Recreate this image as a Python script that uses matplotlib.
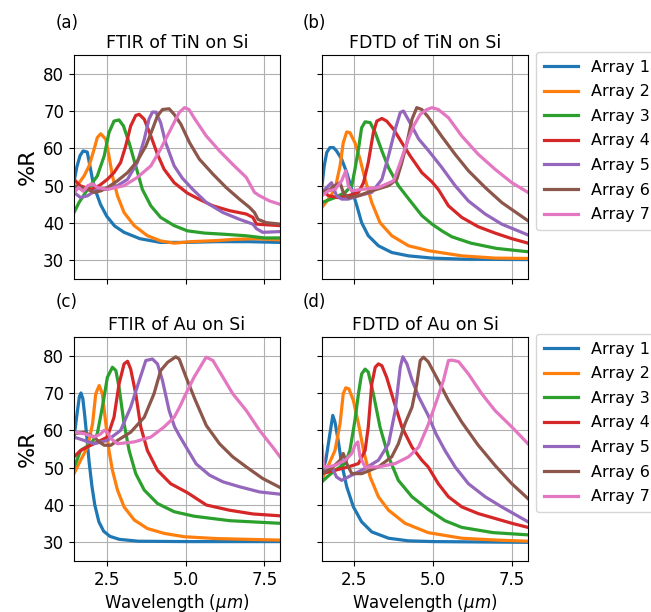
import matplotlib
matplotlib.use("Agg")
import matplotlib.pyplot as plt

labels = ["Array 1", "Array 2", "Array 3", "Array 4", "Array 5", "Array 6", "Array 7"]
titles = ["FTIR of TiN on Si", "FDTD of TiN on Si", "FTIR of Au on Si", "FDTD of Au on Si"]
panel_tags = ["(a)", "(b)", "(c)", "(d)"]
xticks = [2.5, 5.0, 7.5]
yticks = [30, 40, 50, 60, 70, 80]

# ---------------- (a) FTIR of TiN on Si ----------------
a1_wl = [1.46, 1.55, 1.65, 1.75, 1.88, 1.95, 2.05, 2.15, 2.3, 2.5, 2.75, 3.05, 3.55, 4.2, 5.0, 6.0, 7.0, 8.0]
a1_r = [51, 55, 58, 59.3, 59, 56, 51.5, 48.5, 45, 41.8, 39.2, 37.5, 35.8, 34.8, 34.8, 35, 35, 34.8]
a2_wl = [1.46, 1.6, 1.78, 1.94, 2.1, 2.2, 2.31, 2.47, 2.57, 2.68, 2.84, 3.05, 3.37, 3.79, 4.21, 4.64, 5.17, 6.0, 6.5, 7.2, 8.0]
a2_r = [48.5, 50.5, 52.6, 55.3, 59.8, 62.9, 63.9, 62.4, 58, 52.6, 47.3, 42.8, 39.3, 36.6, 35.2, 34.6, 35, 35.3, 35.6, 35.8, 35.5]
a3_wl = [1.46, 1.62, 1.89, 2.2, 2.42, 2.57, 2.73, 2.89, 3.03, 3.21, 3.42, 3.63, 3.9, 4.21, 4.64, 5.06, 5.6, 6.2, 6.9, 7.5, 8.0]
a3_r = [42.8, 45.5, 49, 52.6, 58, 64.2, 67.3, 67.6, 66, 61.5, 55.3, 49, 44.6, 41.5, 39.3, 37.9, 37.3, 37, 36.6, 36, 36]
a4_wl = [1.46, 1.65, 1.99, 2.26, 2.52, 2.73, 2.94, 3.1, 3.26, 3.42, 3.53, 3.69, 3.9, 4.11, 4.32, 4.64, 5.06, 5.4, 5.87, 6.4, 6.93, 7.14, 7.25, 8.0]
a4_r = [51.7, 50, 49, 50, 51.7, 53.5, 56.2, 60.6, 66, 68.8, 69.1, 67.8, 63.3, 58.4, 54.4, 50.8, 48, 46.5, 44.6, 43.3, 42.4, 41.5, 39.7, 39.3]
a5_wl = [1.46, 1.67, 1.89, 2.2, 2.52, 2.84, 3.16, 3.47, 3.69, 3.84, 3.95, 4.06, 4.21, 4.37, 4.64, 4.9, 5.23, 5.66, 6.19, 6.71, 7.14, 7.25, 7.45, 8.0]
a5_r = [48.2, 46.8, 47.3, 49, 49, 50, 51.7, 56.2, 62.4, 67.8, 69.7, 69.7, 66.9, 61.5, 55.3, 52, 49, 45.5, 42.8, 41, 39.7, 38.5, 37.5, 37.7]
a6_wl = [1.46, 1.89, 2.1, 2.31, 2.52, 2.84, 3.16, 3.47, 3.74, 3.95, 4.11, 4.27, 4.48, 4.64, 4.85, 5.13, 5.44, 5.87, 6.29, 6.71, 7.03, 7.19, 7.3, 7.56, 8.0]
a6_r = [50, 49, 48.2, 48.6, 49.5, 51.3, 53.5, 56.6, 60.6, 65.1, 68.7, 70.4, 70.6, 69.1, 66.5, 61.5, 57.1, 53.1, 49.5, 46.4, 44.2, 42.8, 41, 40.1, 39.7]
a7_wl = [1.46, 1.6, 1.75, 1.9, 2.05, 2.2, 2.52, 3.05, 3.47, 3.9, 4.21, 4.53, 4.8, 4.97, 5.11, 5.3, 5.66, 6.08, 6.5, 6.93, 7.19, 7.35, 7.67, 8.0]
a7_r = [48, 49.5, 48.5, 50, 50.5, 49.5, 49, 50, 52.2, 55.3, 59.8, 65.1, 69.6, 70.9, 70.4, 67.8, 63.3, 59.3, 55.7, 52.2, 48.2, 47.3, 45.9, 45]

# ---------------- (b) FDTD of TiN on Si ----------------
b1_wl = [1.5, 1.57, 1.65, 1.75, 1.86, 1.96, 2.12, 2.28, 2.44, 2.6, 2.75, 2.96, 3.28, 3.7, 4.23, 4.97, 6.0, 8.0]
b1_r = [50, 55.3, 58.9, 60.2, 60.2, 59.3, 57.1, 53.5, 49, 44.6, 40.1, 36.6, 33.9, 32.1, 31.2, 30.6, 30.3, 30.2]
b2_wl = [1.5, 1.7, 1.91, 2.07, 2.17, 2.28, 2.38, 2.54, 2.7, 2.86, 3.07, 3.33, 3.7, 4.23, 4.85, 5.91, 6.96, 8.0]
b2_r = [44.2, 46.4, 49, 55.3, 61.5, 64.4, 64.2, 61.5, 57.1, 51.7, 45.5, 40.1, 36.6, 33.9, 32.6, 31.2, 30.6, 30.5]
b3_wl = [1.5, 1.91, 2.23, 2.44, 2.54, 2.65, 2.75, 2.86, 3.02, 3.18, 3.39, 3.6, 3.91, 4.23, 4.65, 4.97, 5.3, 5.6, 6.2, 7.0, 8.0]
b3_r = [45.5, 46.8, 48.2, 50, 54.4, 59.8, 65.5, 67.1, 66.9, 64.2, 59.3, 54.8, 50, 46.5, 42, 39.7, 37.8, 36.3, 34.6, 33.2, 32.3]
b4_wl = [1.5, 1.7, 2.01, 2.33, 2.65, 2.81, 2.96, 3.12, 3.23, 3.39, 3.54, 3.76, 4.02, 4.28, 4.65, 4.97, 5.17, 5.49, 5.91, 6.43, 6.96, 7.49, 8.0]
b4_r = [49, 47.3, 46.8, 47.3, 48.2, 50.8, 56.2, 64.2, 67.3, 68, 67.3, 65.1, 61.5, 58, 53.5, 51, 49, 44.6, 41.5, 39, 37.3, 35.8, 34.6]
b5_wl = [1.5, 1.65, 1.8, 1.96, 2.12, 2.33, 2.65, 3.07, 3.39, 3.6, 3.81, 3.97, 4.07, 4.3, 4.55, 4.85, 5.27, 5.7, 6.12, 6.65, 7.17, 8.0]
b5_r = [48.2, 49.5, 50.8, 47.3, 46.4, 46.4, 47.3, 48.2, 51.7, 58, 65.1, 69.6, 70, 66.5, 62.5, 59.5, 55, 50, 45.9, 42.4, 39.7, 36.8]
b6_wl = [1.5, 1.75, 1.91, 2.07, 2.17, 2.33, 2.65, 3.07, 3.6, 3.86, 4.02, 4.18, 4.34, 4.49, 4.65, 4.85, 5.27, 5.7, 6.12, 6.65, 7.17, 8.0]
b6_r = [48.2, 49, 50, 50.8, 48.2, 46.8, 47.3, 48.6, 50, 51.7, 56.2, 61.5, 67.8, 70.9, 70.4, 68.4, 63.3, 58.4, 54, 49.5, 45.5, 40.6]
b7_wl = [1.5, 1.7, 1.91, 2.12, 2.25, 2.33, 2.44, 2.75, 3.28, 3.76, 3.97, 4.18, 4.39, 4.6, 4.81, 4.97, 5.17, 5.49, 5.91, 6.43, 6.96, 7.49, 8.0]
b7_r = [47.3, 48.6, 49, 51.3, 54, 50, 48.6, 49, 49.5, 51.3, 56.2, 61.5, 66, 69.1, 70.4, 70.9, 70.4, 68.2, 63.3, 58.4, 54.4, 50.8, 48.2]

# ---------------- (c) FTIR of Au on Si ----------------
c1_wl = [1.46, 1.55, 1.63, 1.68, 1.74, 1.8, 1.87, 1.94, 2.03, 2.12, 2.25, 2.4, 2.6, 2.9, 3.5, 5.0, 8.0]
c1_r = [58, 64, 69, 70, 68.5, 64, 58, 51.5, 45, 40, 35.5, 33, 31.6, 30.8, 30.3, 30.2, 30.2]
c2_wl = [1.46, 1.67, 1.89, 2.05, 2.15, 2.26, 2.36, 2.47, 2.57, 2.68, 2.84, 3.05, 3.37, 3.79, 4.32, 4.96, 6.0, 8.0]
c2_r = [48.4, 52, 55.5, 61.8, 69.8, 72, 69.8, 61.8, 54.6, 49.3, 44, 39.5, 36, 33.7, 32.4, 31.5, 31, 30.6]
c3_wl = [1.46, 1.67, 2.0, 2.2, 2.36, 2.52, 2.68, 2.79, 2.89, 3.05, 3.21, 3.42, 3.69, 4.11, 4.64, 5.27, 6.4, 8.0]
c3_r = [50, 54.6, 56.4, 59.1, 66.2, 74.2, 76.9, 76, 71.5, 61.8, 54.6, 48.4, 44, 40.4, 38.2, 37, 35.8, 35.1]
c4_wl = [1.46, 1.67, 1.99, 2.31, 2.52, 2.73, 2.89, 3.05, 3.16, 3.26, 3.42, 3.58, 3.79, 4.11, 4.53, 5.06, 5.66, 6.4, 7.14, 8.0]
c4_r = [52.9, 54.6, 56, 57.3, 58.2, 63.5, 72.4, 77.8, 78.5, 76.4, 69.8, 60.9, 54.6, 49.3, 45.7, 43.3, 40, 38.6, 37.6, 37.1]
c5_wl = [1.46, 1.78, 2.1, 2.52, 2.94, 3.26, 3.53, 3.74, 3.95, 4.11, 4.27, 4.48, 4.65, 4.81, 5.02, 5.34, 5.76, 6.19, 6.71, 7.35, 8.0]
c5_r = [58.2, 57.3, 56.4, 57.3, 60, 66.2, 73.3, 78.7, 79.1, 77.8, 73.3, 65.3, 61, 58.5, 55.5, 51, 48, 46.2, 44.9, 43.5, 42.9]
c6_wl = [1.46, 1.78, 2.1, 2.26, 2.42, 2.63, 2.84, 3.26, 3.69, 4.0, 4.21, 4.43, 4.69, 4.8, 5.02, 5.3, 5.66, 6.08, 6.5, 6.93, 7.45, 8.0]
c6_r = [59.1, 59.5, 58.2, 56.9, 56, 56, 57.3, 59.5, 63.5, 69.8, 76, 78.2, 79.7, 79.1, 74.2, 68.3, 61.3, 56.4, 52.9, 50.2, 47.1, 44.7]
c7_wl = [1.46, 1.78, 2.1, 2.3, 2.42, 2.52, 2.63, 2.84, 3.37, 3.9, 4.32, 4.64, 4.83, 4.96, 5.27, 5.59, 5.66, 5.87, 6.19, 6.5, 6.93, 7.35, 7.77, 8.0]
c7_r = [59.5, 59.1, 58.2, 59, 60, 59.5, 57.8, 56.4, 56.9, 58.2, 60.9, 63.5, 66.5, 68.9, 74.2, 78.7, 79.6, 78.7, 74.2, 69.8, 65.3, 60, 55.5, 52.9]

# ---------------- (d) FDTD of Au on Si ----------------
d1_wl = [1.5, 1.62, 1.75, 1.84, 1.91, 2.01, 2.12, 2.28, 2.49, 2.75, 3.07, 3.6, 4.23, 5.0, 8.0]
d1_r = [48.4, 52, 59.1, 64, 62.2, 57.3, 51.1, 44.9, 39.5, 35.5, 32.8, 31.1, 30.4, 30.2, 30]
d2_wl = [1.5, 1.7, 1.91, 2.07, 2.17, 2.25, 2.35, 2.49, 2.65, 2.81, 3.02, 3.28, 3.6, 4.12, 4.85, 5.91, 7.0, 8.0]
d2_r = [47, 50.6, 54.6, 61.8, 69.8, 71.4, 71.1, 68, 61.8, 54.6, 47.5, 42.2, 38.6, 35.1, 32.6, 31.1, 30.6, 30.3]
d3_wl = [1.5, 1.66, 1.91, 2.23, 2.38, 2.54, 2.65, 2.75, 2.86, 2.96, 3.12, 3.33, 3.6, 3.91, 4.34, 4.85, 5.38, 5.91, 6.9, 8.0]
d3_r = [46.2, 47.5, 49.3, 51.1, 54.6, 62.7, 69.8, 75.1, 76.4, 75.6, 69.8, 60.9, 52.9, 46.6, 42.2, 38.8, 35.8, 34, 32.6, 32]
d4_wl = [1.5, 1.91, 2.33, 2.65, 2.86, 2.96, 3.07, 3.18, 3.28, 3.39, 3.54, 3.76, 4.02, 4.34, 4.65, 4.85, 5.17, 5.49, 5.91, 6.43, 6.96, 7.49, 8.0]
d4_r = [48.4, 49.3, 50.2, 51.1, 54.6, 60.9, 72.4, 76.9, 77.8, 77.3, 74.2, 68, 60.9, 55.5, 52, 50.2, 45.7, 42.2, 39.5, 37.7, 36.4, 35.1, 34]
d5_wl = [1.5, 1.8, 1.96, 2.12, 2.44, 2.86, 3.28, 3.6, 3.81, 3.97, 4.05, 4.18, 4.34, 4.55, 4.85, 5.1, 5.38, 5.7, 6.12, 6.65, 7.17, 8.0]
d5_r = [48.4, 50.2, 47.5, 46.6, 48, 49.8, 52, 56.4, 65.3, 76.9, 79.7, 77.8, 73.5, 69, 64, 59, 54.6, 50.2, 45.7, 42.2, 39.5, 35.5]
d6_wl = [1.5, 1.8, 2.07, 2.17, 2.28, 2.44, 2.75, 3.28, 3.7, 3.91, 4.12, 4.34, 4.49, 4.6, 4.7, 4.85, 5.17, 5.49, 5.91, 6.43, 6.96, 7.49, 8.0]
d6_r = [48.4, 49.8, 52, 53.8, 51.1, 48.4, 48.4, 50.2, 52.9, 56.4, 61.8, 66.2, 72.4, 78.7, 79.6, 78.4, 73.3, 68, 62.2, 56, 50.6, 45.7, 41.7]
d7_wl = [1.5, 1.55, 1.66, 1.91, 2.23, 2.44, 2.54, 2.63, 2.7, 2.86, 3.28, 3.81, 4.23, 4.55, 4.85, 5.12, 5.33, 5.49, 5.6, 5.81, 6.12, 6.54, 6.96, 7.49, 8.0]
d7_r = [56, 50.2, 50.2, 50.6, 52, 53.8, 56, 56.9, 52.9, 50.2, 50.2, 51.1, 52.9, 55.5, 61.5, 68, 73.3, 78.7, 78.8, 78.4, 75.1, 69.8, 65.3, 60.9, 56.4]

panels = [
    [(a1_wl, a1_r), (a2_wl, a2_r), (a3_wl, a3_r), (a4_wl, a4_r), (a5_wl, a5_r), (a6_wl, a6_r), (a7_wl, a7_r)],
    [(b1_wl, b1_r), (b2_wl, b2_r), (b3_wl, b3_r), (b4_wl, b4_r), (b5_wl, b5_r), (b6_wl, b6_r), (b7_wl, b7_r)],
    [(c1_wl, c1_r), (c2_wl, c2_r), (c3_wl, c3_r), (c4_wl, c4_r), (c5_wl, c5_r), (c6_wl, c6_r), (c7_wl, c7_r)],
    [(d1_wl, d1_r), (d2_wl, d2_r), (d3_wl, d3_r), (d4_wl, d4_r), (d5_wl, d5_r), (d6_wl, d6_r), (d7_wl, d7_r)],
]
xlims = [(1.46, 8.0), (1.5, 8.0), (1.46, 8.0), (1.5, 8.0)]

colors = plt.rcParams['axes.prop_cycle'].by_key()['color']

W, H = 651, 612
fig = plt.figure(figsize=(W / 100, H / 100), dpi=100)

# axes boxes in pixels: left, top, right, bottom
boxes = [(74, 55, 280, 279), (322, 55, 528, 279), (74, 337, 280, 561), (322, 337, 528, 561)]
tag_pos = [(56, 23), (303, 23), (56, 302), (303, 302)]

for i in range(4):
    l, t, r, b = boxes[i]
    ax = fig.add_axes([l / W, 1 - b / H, (r - l) / W, (b - t) / H])
    for k, (wl, rr) in enumerate(panels[i]):
        ax.plot(wl, rr, color=colors[k], lw=2.3, label=labels[k],
                solid_joinstyle='round')
    ax.set_xlim(*xlims[i])
    ax.set_ylim(25, 85)
    ax.set_xticks(xticks)
    ax.set_yticks(yticks)
    ax.grid(True, color='#b0b0b0', lw=0.8)
    ax.set_title(titles[i], fontsize=12.5, pad=5)
    ax.tick_params(labelsize=12)
    if i in (0, 1):
        ax.tick_params(labelbottom=False)
    else:
        ax.set_xlabel('Wavelength ($\\mu m$)', fontsize=12, labelpad=2)
    if i in (1, 3):
        ax.tick_params(labelleft=False)
        ax.legend(loc='upper left', bbox_to_anchor=(1.04, 1.015), borderaxespad=0,
                  fontsize=11.5, labelspacing=0.6, borderpad=0.5, handlelength=2.1)
    else:
        ax.set_ylabel('%R', fontsize=16, labelpad=4)
    fig.text(tag_pos[i][0] / W, 1 - tag_pos[i][1] / H, panel_tags[i], fontsize=12,
             ha='left', va='center')

fig.savefig('out.png', dpi=100)
